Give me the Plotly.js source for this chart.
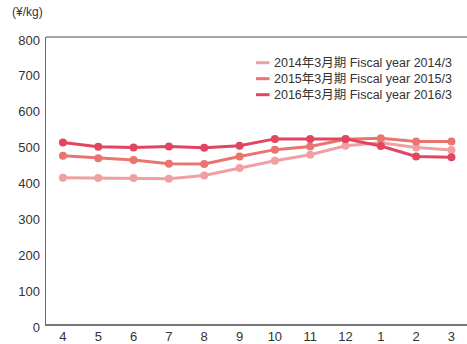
<!DOCTYPE html>
<html>
<head>
<meta charset="utf-8">
<script src="https://cdn.plot.ly/plotly-3.0.1.min.js"></script>
<style>html,body{margin:0;padding:0;background:#fff;}#chart{width:467px;height:344px;}</style>
</head>
<body>
<div id="chart"></div>
<script>
const months = ["4","5","6","7","8","9","10","11","12","1","2","3"];
const fy2014 = [408, 407, 407, 405, 414, 435, 455, 472, 497, 505, 492, 485];
const fy2015 = [469, 462, 457, 447, 446, 467, 486, 495, 515, 518, 509, 509];
const fy2016 = [506, 494, 492, 495, 491, 497, 516, 516, 516, 496, 467, 465];
const seriesNames = ["2014年3月期 Fiscal year 2014/3", "2015年3月期 Fiscal year 2015/3", "2016年3月期 Fiscal year 2016/3"];
const seriesColors = ["#f0a0a2", "#e9756f", "#e2455f"];
const yTicks = [0, 100, 200, 300, 400, 500, 600, 700, 800];

const fontFamily = '"Liberation Sans", "Noto Sans CJK JP", sans-serif';
const data = [fy2014, fy2015, fy2016].map((vals, i) => ({
  x: months, y: vals, name: seriesNames[i], type: "scatter", mode: "lines+markers",
  line: {color: seriesColors[i], width: 3},
  marker: {color: seriesColors[i], size: 8},
  showlegend: false
}));

// Plot area in pixels: x 46..467, y 37..324
const plotW = 421, plotH = 287;
const legX0 = (256 - 46) / plotW, legX1 = (269.5 - 46) / plotW, legTextX = (271.5 - 46) / plotW;
const legRowsPx = [62.7, 78.7, 94.7];
const shapes = [{type: "line", xref: "paper", yref: "paper", x0: 0, x1: 1, y0: 1, y1: 1,
  line: {color: "#888", width: 1.5}}];
const annotations = [{text: "(¥/kg)", xref: "paper", yref: "paper", x: -0.085, y: 1.055,
  xanchor: "left", yanchor: "bottom", showarrow: false, font: {size: 12, color: "#333"}}];
seriesNames.forEach((nm, i) => {
  const py = (324 - legRowsPx[i]) / plotH;
  shapes.push({type: "line", xref: "paper", yref: "paper", x0: legX0, x1: legX1, y0: py, y1: py,
    line: {color: seriesColors[i], width: 3}});
  annotations.push({text: nm, xref: "paper", yref: "paper", x: legTextX, y: py,
    xanchor: "left", yanchor: "middle", showarrow: false, font: {size: 12.5, color: "#333"}});
});

const layout = {
  width: 467, height: 344,
  margin: {l: 46, r: 0, t: 37, b: 20},
  paper_bgcolor: "#fff", plot_bgcolor: "#fff",
  font: {family: fontFamily, size: 13, color: "#333"},
  showlegend: false,
  xaxis: {type: "category", range: [-0.48, 11.44], showgrid: false, zeroline: false,
    showline: true, linecolor: "#777", linewidth: 1.5, mirror: false, ticks: "", fixedrange: true},
  yaxis: {range: [0, 800], tickvals: yTicks, showgrid: false, zeroline: false,
    showline: true, linecolor: "#666", linewidth: 1.5, ticks: "", ticklabelshift: 3, ticklabelstandoff: 2},
  shapes: shapes,
  annotations: annotations
};
Plotly.newPlot("chart", data, layout, {displayModeBar: false, staticPlot: true});
</script>
</body>
</html>
